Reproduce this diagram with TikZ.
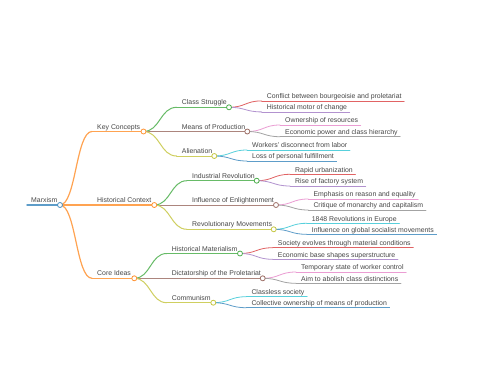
\documentclass[tikz,border=0pt]{standalone}
\usepackage{fontspec}
\setmainfont{Liberation Sans}
\usetikzlibrary{calc}
\definecolor{mmblue}{HTML}{1F77B4}
\definecolor{mmorange}{HTML}{FF7F0E}
\definecolor{mmgreen}{HTML}{2CA02C}
\definecolor{mmred}{HTML}{D62728}
\definecolor{mmpurple}{HTML}{9467BD}
\definecolor{mmbrown}{HTML}{8C564B}
\definecolor{mmpink}{HTML}{E377C2}
\definecolor{mmgrey}{HTML}{7F7F7F}
\definecolor{mmolive}{HTML}{BCBD22}
\definecolor{mmcyan}{HTML}{17BECF}

\begin{document}
\begin{tikzpicture}[x=1pt,y=-1pt,font=\fontsize{6.9}{8}\selectfont,
  lbl/.style={anchor=base west,inner sep=0pt,text=black!72},
  ul/.style={draw=#1!72!white,line cap=round},
  dot/.style={circle,draw=#1!85!white,fill=white,line width=0.8pt,minimum size=5pt,inner sep=0pt},
  link/.style={to path={let \p1=(\tikztostart),\p2=(\tikztotarget) in
    .. controls ({0.5*\x1+0.5*\x2},\y1) and ({0.5*\x1+0.5*\x2},\y2) .. (\p2)}}]
 \fill[white] (0,0) rectangle (480,384);
 \useasboundingbox (0,0) rectangle (480,384);
 % root
 \coordinate (mx-s) at (27,205);
 \coordinate (mx) at (60,205);
 \node[lbl] (mx-t) at (31,202.5) {Marxism};
 \draw[ul=mmblue,line width=1.5pt] (mx-s) -- (mx);
 % main branches and their sub-branches
 \foreach \from/\nm/\xx/\yy/\ee/\col/\lw/\txt in {
   mx/kc/92/131.5/143.5/mmorange/1.2/Key Concepts,
   mx/hc/92/205/154.3/mmorange/1.2/Historical Context,
   mx/ci/92/278.3/134.3/mmorange/1.2/Core Ideas,
   kc/cs/176.7/107.3/229/mmgreen/1/Class Struggle,
   kc/mp/176.7/131.5/247.3/mmbrown/1/Means of Production,
   kc/al/176.7/156/214.3/mmolive/1/Alienation,
   hc/ir/187/180.7/256.7/mmgreen/1/Industrial Revolution,
   hc/ie/187/205/276/mmbrown/1/Influence of Enlightenment,
   hc/rm/187/229.3/273.7/mmolive/1/Revolutionary Movements,
   ci/hm/166.7/253.5/240/mmgreen/1/Historical Materialism,
   ci/dp/166.7/278.3/262.7/mmbrown/1/Dictatorship of the Proletariat,
   ci/cm/166.7/302.7/213.3/mmolive/1/Communism} {
   \coordinate (\nm-s) at (\xx,\yy);
   \coordinate (\nm) at (\ee,\yy);
   \node[lbl] (\nm-t) at (\xx+5,\yy-2.5) {\txt};
   \draw[ul=\col,line width=\lw pt] (\nm-s) -- (\nm);
   \draw[ul=\col,line width=\lw pt] (\from) to[link] (\nm-s);
 }
 % leaves
 \foreach \from/\nm/\xx/\yy/\col/\txt in {
   cs/a1/261.7/100.9/mmred/Conflict between bourgeoisie and proletariat,
   cs/a2/261.7/111.9/mmpurple/Historical motor of change,
   mp/b1/280/125/mmpink/Ownership of resources,
   mp/b2/280/136.7/mmgrey/Economic power and class hierarchy,
   al/c1/247/150/mmcyan/Workers' disconnect from labor,
   al/c2/247/161/mmblue/Loss of personal fulfillment,
   ir/d1/290/174.3/mmred/Rapid urbanization,
   ir/d2/290/186/mmpurple/Rise of factory system,
   ie/e1/308.3/199/mmpink/Emphasis on reason and equality,
   ie/e2/308.3/210/mmgrey/Critique of monarchy and capitalism,
   rm/f1/306.7/223.3/mmcyan/1848 Revolutions in Europe,
   rm/f2/306.7/234.3/mmblue/Influence on global socialist movements,
   hm/g1/272.7/247.7/mmred/Society evolves through material conditions,
   hm/g2/272.7/259.3/mmpurple/Economic base shapes superstructure,
   dp/h1/296/272/mmpink/Temporary state of worker control,
   dp/h2/296/283.3/mmgrey/Aim to abolish class distinctions,
   cm/k1/246.3/296.7/mmcyan/Classless society,
   cm/k2/246.3/307.7/mmblue/Collective ownership of means of production} {
   \coordinate (\nm-s) at (\xx,\yy);
   \node[lbl] (\nm) at (\xx+5,\yy-2.3) {\txt};
   \draw[ul=\col,line width=0.8pt,shorten >=-2.5pt] (\nm-s) -- (\nm-s -| \nm.east);
   \draw[ul=\col,line width=0.8pt] (\from) to[link] (\nm-s);
 }
 % circles on top
 \node[dot=mmblue] (mx-c) at (mx) {};
 \foreach \nm/\col in {kc/mmorange,hc/mmorange,ci/mmorange,cs/mmgreen,mp/mmbrown,
   al/mmolive,ir/mmgreen,ie/mmbrown,rm/mmolive,hm/mmgreen,dp/mmbrown,cm/mmolive}
   \node[dot=\col] (\nm-c) at (\nm) {};
\end{tikzpicture}
\end{document}
